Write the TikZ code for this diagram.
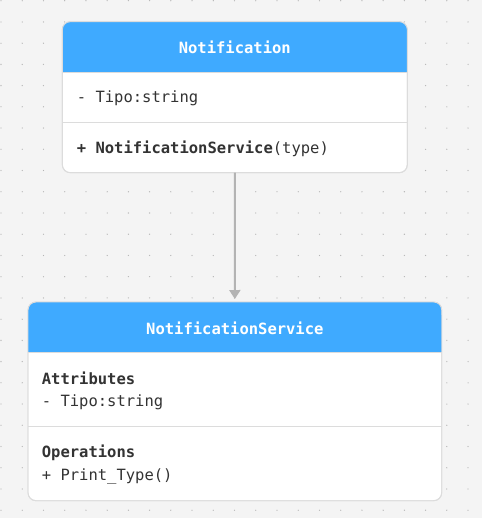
\documentclass[tikz,border=0pt]{standalone}
\usepackage{fontspec}
\setmonofont{DejaVu Sans Mono}
\usetikzlibrary{arrows.meta}
\definecolor{bg}{HTML}{F4F4F4}
\definecolor{dotc}{HTML}{B4B4B4}
\definecolor{hdr}{HTML}{3FAAFF}
\definecolor{brd}{HTML}{DCDCDC}
\definecolor{txt}{HTML}{333333}
\definecolor{arrc}{HTML}{B3B3B3}
\tikzset{
  classbox/.style={draw=brd, line width=0.9pt, fill=white, rounded corners=8pt, inner sep=0pt, outer sep=0pt},
  hdrtext/.style={font=\ttfamily\bfseries\fontsize{15.5}{18}\selectfont, text=white, inner sep=0pt},
  bodytext/.style={font=\ttfamily\fontsize{15.5}{18}\selectfont, text=txt, anchor=west, inner sep=0pt},
  boldtext/.style={bodytext, font=\ttfamily\bfseries\fontsize{15.5}{18}\selectfont},
  divider/.style={draw=brd, line width=0.9pt},
  arr/.style={draw=arrc, line width=2pt, -{Triangle[length=9pt,width=11pt]}, shorten >=3pt},
}
\begin{document}
\begin{tikzpicture}[x=1pt,y=-1pt]
\useasboundingbox (0,0) rectangle (482,518);
\fill[bg] (0,0) rectangle (482,518);
\foreach \i in {0,...,22}{
  \foreach \j in {0,...,24}{
    \fill[dotc] ({1+21.23*\i},{0.7+21.23*\j}) circle (0.65pt);
  }
}
% Class 1
\node[classbox, minimum width=345pt, minimum height=151pt] (n1) at (234.8,97.2) {};
\fill[hdr, rounded corners=8pt] (n1.north west) rectangle (407.3,72.3);
\fill[hdr] (62.3,35) rectangle (407.3,72.3);
\draw[divider] (62.3,72.3) -- (407.3,72.3);
\draw[divider] (62.3,122.3) -- (407.3,122.3);
\draw[draw=brd, line width=0.9pt, rounded corners=8pt] (n1.north west) rectangle (n1.south east);
\node[hdrtext] (n1title) at (234.8,47.3) {Notification};
\node[bodytext] (n1attr) at (76.7,98.3) {- Tipo:string};
\node[bodytext] (n1op) at (76.7,149) {\textbf{+ NotificationService}(type)};
% Class 2
\node[classbox, minimum width=413.7pt, minimum height=198.7pt] (n2) at (234.85,401.35) {};
\fill[hdr, rounded corners=8pt] (n2.north west) rectangle (441.7,352.3);
\fill[hdr] (28,315) rectangle (441.7,352.3);
\draw[divider] (28,352.3) -- (441.7,352.3);
\draw[divider] (28,426) -- (441.7,426);
\draw[draw=brd, line width=0.9pt, rounded corners=8pt] (n2.north west) rectangle (n2.south east);
\node[hdrtext] (n2title) at (234.85,328.3) {NotificationService};
\node[boldtext] (n2ah) at (41.7,378.3) {Attributes};
\node[bodytext] (n2attr) at (41.7,402.7) {- Tipo:string};
\node[boldtext] (n2oh) at (41.7,452.7) {Operations};
\node[bodytext] (n2op) at (41.7,476.7) {+ Print\_Type()};
% connector
\draw[arr] (n1.south) -- (n2.north);
\end{tikzpicture}
\end{document}
